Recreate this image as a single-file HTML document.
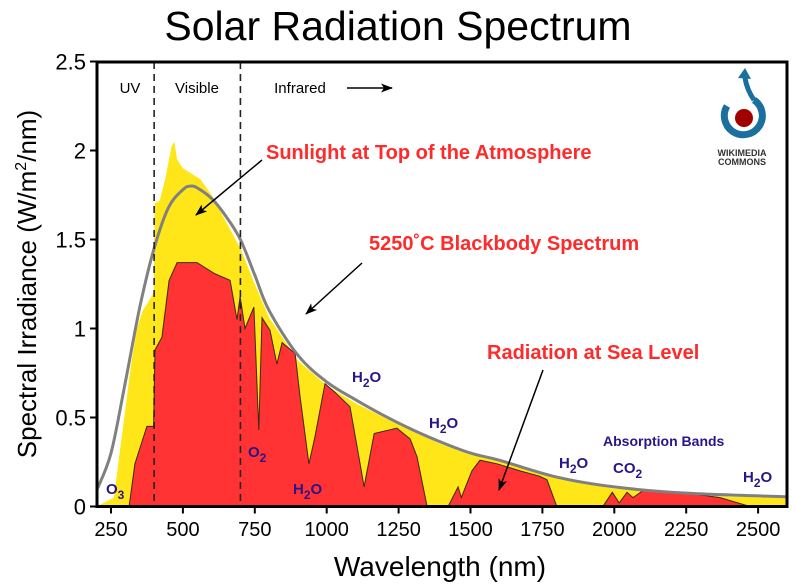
<!DOCTYPE html>
<html><head><meta charset="utf-8"><style>
body{margin:0;background:#fff;width:795px;height:587px;overflow:hidden;font-family:"Liberation Sans",sans-serif}
svg{display:block}
</style></head><body>
<svg id="chart" width="795" height="587" viewBox="0 0 795 587" xmlns="http://www.w3.org/2000/svg">
<text x="398" y="40" text-anchor="middle" font-size="41" font-family="Liberation Sans, sans-serif">Solar Radiation Spectrum</text>
<g id="plot"></g>
<text x="440" y="576" text-anchor="middle" font-size="28">Wavelength (nm)</text>
<text transform="translate(36,284) rotate(-90)" text-anchor="middle" font-size="26">Spectral Irradiance (W/m<tspan dy="-10" font-size="16">2</tspan><tspan dy="10">/nm)</tspan></text>
</svg>
<script>
const tocWl=[200,260,280,300,320,340,360,380,398,402,420,440,460,470,480,500,520,540,560,600,650,700,750,800,900,1000,1100,1200,1300,1400,1500,1600,1700,1800,2000,2200,2400,2600];
const tocVal=[0,0.05,0.3,0.55,0.8,1.0,1.1,1.15,1.2,1.7,1.72,1.85,2.02,2.05,1.95,1.9,1.88,1.86,1.84,1.75,1.6,1.45,1.25,1.06,0.82,0.68,0.58,0.5,0.42,0.35,0.29,0.26,0.21,0.16,0.1,0.075,0.055,0.05];
const seaWl=[313,333,375,398,403,427,452,480,549,608,664,688,699,716,747,764,775,803,827,845,890,907,938,959,994,1030,1081,1116,1130,1165,1244,1290,1314,1349,1422,1457,1468,1505,1533,1592,1672,1740,1766,1800,1960,1993,2017,2044,2065,2100,2253,2368,2472];
const seaVal=[0,0.24,0.45,0.45,0.88,0.95,1.27,1.37,1.37,1.31,1.27,1.05,1.18,1.0,1.12,0.43,1.06,0.99,0.8,0.92,0.86,0.62,0.24,0.39,0.69,0.64,0.56,0.24,0.11,0.41,0.44,0.38,0.28,0,0,0.11,0.05,0.2,0.26,0.24,0.2,0.17,0.15,0,0,0.08,0.02,0.08,0.05,0.09,0.075,0.05,0];
const bbWl=[200,250,300,350,400,450,500,525,550,600,650,700,750,800,900,1000,1100,1200,1300,1400,1500,1600,1800,2000,2250,2600];
const bbVal=[0.09,0.3,0.7,1.12,1.45,1.68,1.78,1.8,1.79,1.73,1.63,1.5,1.3,1.1,0.85,0.7,0.6,0.51,0.43,0.36,0.3,0.26,0.165,0.11,0.075,0.055];
const xTicks=[250,500,750,1000,1250,1500,1750,2000,2250,2500];
const yTicks=[0,0.5,1,1.5,2,2.5];
const yTickLabels=["0","0.5","1","1.5","2","2.5"];

const NS="http://www.w3.org/2000/svg";
const g=document.getElementById('plot');
const X=nm=>111+(nm-250)*0.2876;
const Y=v=>506.5-v*178;
const x0=97,x1=787,y0=506.5,yTop=62;
function mk(tag,attrs,parent){const e=document.createElementNS(NS,tag);for(const k in attrs)e.setAttribute(k,attrs[k]);(parent||g).appendChild(e);return e;}
function areaPath(w,v){let d='M'+X(w[0])+','+y0;for(let i=0;i<w.length;i++)d+=' L'+X(w[i]).toFixed(1)+','+Y(v[i]).toFixed(1);d+=' L'+X(w[w.length-1])+','+y0+' Z';return d;}
function smoothPath(w,v){const p=w.map((a,i)=>[X(a),Y(v[i])]);let d='M'+p[0][0].toFixed(1)+','+p[0][1].toFixed(1);
for(let i=0;i<p.length-1;i++){const a=p[i-1]||p[i],b=p[i],c=p[i+1],n=p[i+2]||c;
const c1=[b[0]+(c[0]-a[0])/6,b[1]+(c[1]-a[1])/6],c2=[c[0]-(n[0]-b[0])/6,c[1]-(n[1]-b[1])/6];
d+=' C'+c1[0].toFixed(1)+','+c1[1].toFixed(1)+' '+c2[0].toFixed(1)+','+c2[1].toFixed(1)+' '+c[0].toFixed(1)+','+c[1].toFixed(1);}return d;}
const cp=mk('clipPath',{id:'clip'});mk('rect',{x:x0,y:yTop,width:x1-x0,height:y0-yTop},cp);
let e;
e=mk('path',{d:areaPath(tocWl,tocVal),fill:'#ffe619','clip-path':'url(#clip)'});


e=mk('path',{d:areaPath(seaWl,seaVal),fill:'#ff3333',stroke:'#3a2a10','stroke-width':'1','clip-path':'url(#clip)'});


e=mk('path',{d:smoothPath(bbWl,bbVal),fill:'none',stroke:'#808080','stroke-width':'3','clip-path':'url(#clip)'});


[400,700].forEach(nm=>{e=mk('line',{x1:X(nm),x2:X(nm),y1:yTop,y2:y0,stroke:'#222','stroke-width':'1.6','stroke-dasharray':'7,5'});

});
e=mk('rect',{x:x0,y:yTop,width:x1-x0,height:y0-yTop,fill:'none',stroke:'#000','stroke-width':'3'});


xTicks.forEach(t=>{mk('line',{x1:X(t),x2:X(t),y1:y0,y2:y0+7,stroke:'#000','stroke-width':'2'});
e=mk('text',{x:X(t),y:536,'text-anchor':'middle','font-size':'20'});e.textContent=t;

});
yTicks.forEach((t,i)=>{mk('line',{x1:x0-7,x2:x0,y1:Y(t),y2:Y(t),stroke:'#000','stroke-width':'2'});
e=mk('text',{x:x0-11,y:Y(t)+8,'text-anchor':'end','font-size':'22'});e.textContent=yTickLabels[i];

});
[['UV',130],['Visible',197],['Infrared',300]].forEach(([s,x])=>{e=mk('text',{x:x,y:93,'text-anchor':'middle','font-size':'15'});e.textContent=s;

});
const defs=mk('defs',{});const mkr=mk('marker',{id:'ah',markerWidth:'12',markerHeight:'9',refX:'11',refY:'4.5',orient:'auto',markerUnits:'userSpaceOnUse'},defs);mk('path',{d:'M0,0 L12,4.5 L0,9 L3,4.5 Z',fill:'#000'},mkr);
mk('line',{x1:347,y1:88,x2:392,y2:88,stroke:'#000','stroke-width':'1.5','marker-end':'url(#ah)'});
[['Sunlight at Top of the Atmosphere',266,159],['5250˚C Blackbody Spectrum',369,250],['Radiation at Sea Level',487,359]].forEach(([s,x,y])=>{e=mk('text',{x:x,y:y,'font-size':'20','font-weight':'bold',fill:'#ff2a2a'});e.textContent=s;

});
[[262,160,196,215],[362,263,306,314],[543,370,499,490]].forEach(a=>mk('line',{x1:a[0],y1:a[1],x2:a[2],y2:a[3],stroke:'#000','stroke-width':'1.5','marker-end':'url(#ah)'}));
function chem(base,sub,rest,x,y){e=mk('text',{x:x,y:y,'font-size':'15','font-weight':'bold',fill:'#2a1488'});


e.appendChild(document.createTextNode(base));const ts=mk('tspan',{dy:'5','font-size':'12'},e);ts.textContent=sub;if(rest){const t2=mk('tspan',{dy:'-5'},e);t2.textContent=rest;}}
chem('O','3','',106,494);chem('O','2','',248,457);chem('H','2','O',293,494);chem('H','2','O',352,382);chem('H','2','O',429,428);chem('H','2','O',559,468);chem('CO','2','',613,473);chem('H','2','O',743,482);
e=mk('text',{x:603,y:446,'font-size':'14','font-weight':'bold',fill:'#2a1488'});e.textContent='Absorption Bands';


const lg=mk('g',{});


mk('path',{d:'M727,106 A19,19 0 1 0 754,100',fill:'none',stroke:'#1a6fa0','stroke-width':'7'},lg);
mk('path',{d:'M754,100 Q747,90 745,78',fill:'none',stroke:'#1a6fa0','stroke-width':'5'},lg);
mk('path',{d:'M738,78 L745,68 L751,79 Z',fill:'#1a6fa0'},lg);
mk('circle',{cx:744,cy:118,r:9,fill:'#a00000'},lg);
e=mk('text',{x:742,y:156,'text-anchor':'middle','font-size':'9','font-weight':'bold',fill:'#333'},lg);e.textContent='WIKIMEDIA';
e=mk('text',{x:742,y:165,'text-anchor':'middle','font-size':'9','font-weight':'bold',fill:'#333'},lg);e.textContent='COMMONS';
</script>
</body></html>
